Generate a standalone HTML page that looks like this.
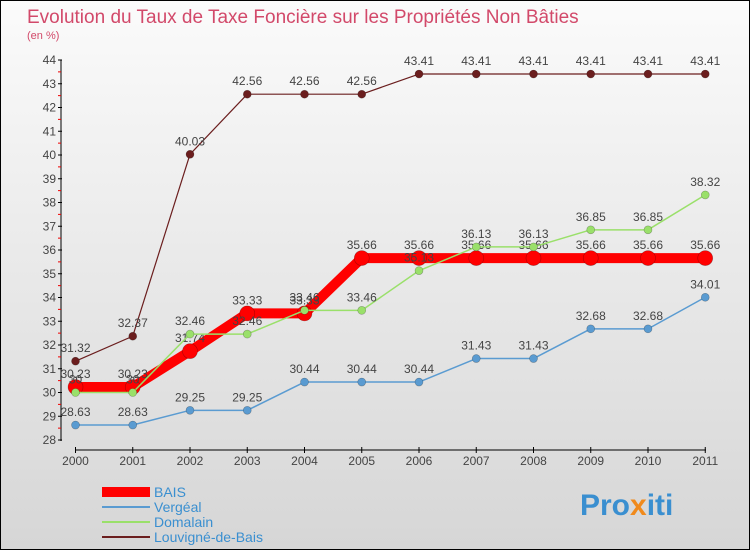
<!DOCTYPE html>
<html><head><meta charset="utf-8"><style>
body{margin:0;width:750px;height:550px;overflow:hidden;font-family:"Liberation Sans",sans-serif}
#c{position:absolute;left:0;top:0;width:748px;height:548px;border:1px solid #000;background:linear-gradient(#fbfbfb,#d6d6d6)}
</style></head><body>
<div id="c">
<svg id="s" width="750" height="550" style="position:absolute;left:-1px;top:-1px">
<text x="27" y="23" font-size="19" fill="#d2496a">Evolution du Taux de Taxe Foncière sur les Propriétés Non Bâties</text>
<text x="27" y="39" font-size="11" fill="#d2496a">(en %)</text>
<g id="ax"></g><g id="ser"></g>
<text x="580" y="515" font-size="30" font-weight="bold" fill="#3a8fd0">Pro<tspan fill="#f08a1c">x</tspan>iti</text>
</svg></div>
<script>
const years=["2000","2001","2002","2003","2004","2005","2006","2007","2008","2009","2010","2011"];
const yTicks=[28,29,30,31,32,33,34,35,36,37,38,39,40,41,42,43,44];
const bais=[30.23,30.23,31.74,33.33,33.33,35.66,35.66,35.66,35.66,35.66,35.66,35.66];
const vergeal=[28.63,28.63,29.25,29.25,30.44,30.44,30.44,31.43,31.43,32.68,32.68,34.01];
const domalain=[30,30,32.46,32.46,33.46,33.46,35.13,36.13,36.13,36.85,36.85,38.32];
const louvigne=[31.32,32.37,40.03,42.56,42.56,42.56,43.41,43.41,43.41,43.41,43.41,43.41];
const NS="http://www.w3.org/2000/svg";
const X=i=>75.5+i*57.25, Y=v=>440-(v-28)*23.75;
function mk(t,a,p){const e=document.createElementNS(NS,t);for(const k in a)e.setAttribute(k,a[k]);p.appendChild(e);return e;}
const ax=document.getElementById('ax'), ser=document.getElementById('ser');
let l=mk('line',{x1:61,y1:60,x2:61,y2:441,stroke:'#000'},ax);


l=mk('line',{x1:75,y1:450,x2:706,y2:450,stroke:'#000'},ax);


yTicks.forEach((v,i)=>{
 mk('line',{x1:58,y1:Y(v),x2:62,y2:Y(v),stroke:'#000'},ax);
 if(i<yTicks.length-1)mk('line',{x1:58,y1:Y(v+0.5),x2:61,y2:Y(v+0.5),stroke:'#e00'},ax);
 const t=mk('text',{x:56,y:Y(v)+4,'font-size':12,fill:'#444','text-anchor':'end'},ax);t.textContent=v;
 
 
});
years.forEach((y,i)=>{
 mk('line',{x1:X(i),y1:447,x2:X(i),y2:453,stroke:'#000'},ax);
 const t=mk('text',{x:X(i),y:465,'font-size':12,fill:'#444','text-anchor':'middle'},ax);t.textContent=y;
 
 
});
function series(d,col,w,r,name){
 const g=mk('g',{},ser);
 
 
 mk('polyline',{points:d.map((v,i)=>X(i)+','+Y(v)).join(' '),fill:'none',stroke:col,'stroke-width':w,'stroke-linejoin':'round'},g);
 d.forEach((v,i)=>{
  const c=mk('circle',{cx:X(i),cy:Y(v),r:r,fill:col,stroke:'rgba(0,0,0,0.3)','stroke-width':0.6},g);
  
  
  const t=mk('text',{x:X(i),y:Y(v)-9,'font-size':12,fill:'#444','text-anchor':'middle'},g);t.textContent=String(v);
  
  
 });
}
series(bais,'#f00',10,7.5,'bais');
series(vergeal,'#5a9bd1',1.5,4,'vergeal');
series(domalain,'#9ae06a',1.5,4,'domalain');
series(louvigne,'#6b1e1e',1.2,4,'louvigne');
const leg=[["BAIS","#f00",10],["Vergéal","#5a9bd1",2],["Domalain","#9ae06a",2],["Louvigné-de-Bais","#6b1e1e",2]];
leg.forEach((e,i)=>{
 const y=492+i*15;
 const g=mk('g',{},ser);
 
 
 mk('line',{x1:102,y1:y,x2:150,y2:y,stroke:e[1],'stroke-width':e[2]},g);
 const t=mk('text',{x:154,y:y+5,'font-size':14,fill:'#3a8fd0'},g);t.textContent=e[0];
});
</script></body></html>
